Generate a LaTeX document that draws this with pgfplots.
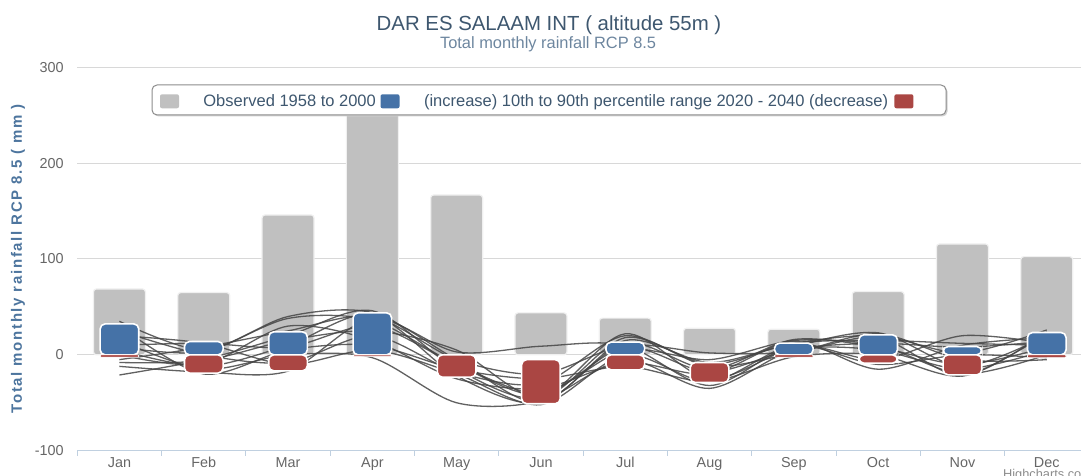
\documentclass[border=0pt]{standalone}
\usepackage{pgfplots}
\pgfplotsset{compat=1.18}
\usepackage{fontspec}
\setmainfont{Liberation Sans}
\newfontfamily\ylabfont[LetterSpace=11]{Liberation Sans}

\definecolor{obsgray}{HTML}{C0C0C0}
\definecolor{incblue}{HTML}{4572A7}
\definecolor{decred}{HTML}{AA4643}
\definecolor{gridgray}{HTML}{D8D8D8}
\definecolor{axisblue}{HTML}{C0D0E0}
\definecolor{ticktext}{HTML}{666666}
\definecolor{titlecol}{HTML}{3E576F}
\definecolor{subcol}{HTML}{6D869F}
\definecolor{ylabcol}{HTML}{4D759E}
\definecolor{modelline}{HTML}{454545}

\pgfplotsset{
  common/.style={width=505.8pt, height=191.7pt, scale only axis,
    xmin=-0.5, xmax=11.5, ymin=-100, ymax=300,
    at={(0,0)}, anchor=south west},
  model/.style={modelline, smooth, line width=0.65pt, opacity=0.85, mark=none},
}

\begin{document}
\begin{tikzpicture}
\begin{axis}[common,
    axis x line*=bottom, axis y line*=left,
    x axis line style={draw=axisblue, line width=0.5pt, -},
    y axis line style={draw=none},
    xtick={0,...,11},
    xticklabels={Jan,Feb,Mar,Apr,May,Jun,Jul,Aug,Sep,Oct,Nov,Dec},
    minor xtick={-0.5,0.5,...,11.5},
    ytick={-100,0,100,200,300},
    ymajorgrids, grid style={draw=gridgray, line width=0.5pt},
    xtick style={draw=none}, ytick style={draw=none},
    minor x tick style={draw=axisblue, line width=0.5pt},
    major tick length=0pt, minor tick length=2.5pt, tick align=outside,
    tick label style={font=\fontsize{7.2}{8}\selectfont, text=ticktext},
    /pgf/number format/assume math mode=true,
    yticklabel style={xshift=-3.3pt},
    xticklabel style={yshift=0.3pt},
    ylabel={\ylabfont\bfseries Total monthly rainfall RCP 8.5 ( mm )},
    every axis y label/.style={at={(rel axis cs:0,0.5)}, xshift=-29.6pt,
      rotate=90, anchor=center, text=ylabcol,
      font=\fontsize{7.5}{9}\selectfont},
]
% observed 1958-2000
\addplot[ybar, bar width=26pt, bar shift=0pt, fill=obsgray, draw=black!6,
  line width=0.6pt, rounded corners=1.5pt] coordinates {
  (0,68.8) (1,65) (2,146) (3,270) (4,166.8) (5,43.8)
  (6,38.3) (7,27.8) (8,26.8) (9,66) (10,115.7) (11,102.5)};
% individual model changes
\addplot[model] coordinates {(0,35) (1,5) (2,40) (3,44) (4,-5) (5,-50) (6,15) (7,-8) (8,12) (9,20) (10,2) (11,26)};
\addplot[model] coordinates {(0,-21) (1,-5) (2,20) (3,46) (4,-15) (5,-45) (6,22) (7,-25) (8,8) (9,23) (10,-12) (11,20)};
\addplot[model] coordinates {(0,-12) (1,-18) (2,-17) (3,38) (4,3) (5,9) (6,10) (7,-32) (8,10) (9,-5) (10,20) (11,12)};
\addplot[model] coordinates {(0,10) (1,12) (2,8) (3,30) (4,-10) (5,-40) (6,5) (7,-5) (8,15) (9,10) (10,-20) (11,0)};
\addplot[model] coordinates {(0,25) (1,0) (2,-8) (3,20) (4,-18) (5,-30) (6,20) (7,-12) (8,2) (9,22) (10,-5) (11,-5)};
\addplot[model] coordinates {(0,0) (1,-10) (2,30) (3,15) (4,-25) (5,-35) (6,-8) (7,-20) (8,14) (9,-15) (10,10) (11,18)};
\addplot[model] coordinates {(0,15) (1,-15) (2,0) (3,-3) (4,-50) (5,-48) (6,-5) (7,-35) (8,5) (9,5) (10,-15) (11,5)};
\addplot[model] coordinates {(0,-5) (1,8) (2,25) (3,40) (4,-5) (5,-20) (6,10) (7,2) (8,3) (9,18) (10,-22) (11,24)};
\addplot[model] coordinates {(0,20) (1,12) (2,-10) (3,5) (4,-20) (5,-52) (6,0) (7,-28) (8,10) (9,-10) (10,0) (11,-3)};
\addplot[model] coordinates {(0,-8) (1,-6) (2,15) (3,25) (4,5) (5,-45) (6,18) (7,-10) (8,12) (9,15) (10,12) (11,10)};
\addplot[model] coordinates {(0,30) (1,-20) (2,5) (3,10) (4,-15) (5,-25) (6,-12) (7,-28) (8,-2) (9,0) (10,-22) (11,22)};
\addplot[model] coordinates {(0,8) (1,3) (2,38) (3,36) (4,-10) (5,-42) (6,8) (7,-18) (8,6) (9,12) (10,8) (11,14)};
\addplot[model] coordinates {(0,5) (1,-12) (2,10) (3,42) (4,-22) (5,-50) (6,12) (7,-15) (8,16) (9,8) (10,-10) (11,8)};
% 90th percentile (increase)
\addplot[ybar, bar width=19.3pt, bar shift=0pt, fill=incblue, draw=white,
  line width=0.8pt, rounded corners=2.5pt] coordinates {
  (0,32.3) (1,13.9) (2,24) (3,43.8) (6,13.2) (8,12.2) (9,20.9) (10,8.7) (11,23.3)};
% 10th percentile (decrease)
\addplot[ybar, bar width=19.3pt, bar shift=0pt, fill=decred, draw=white,
  line width=0.8pt, rounded corners=2.5pt] coordinates {
  (1,-19) (2,-16.7) (4,-23.3) (6,-15.6) (9,-8.7) (10,-20.9)};
\addplot[ybar, bar width=19.3pt, bar shift=0pt, fill=decred, draw=white,
  line width=0.4pt, rounded corners=0.4pt] coordinates {
  (0,-2.5) (3,-1.5) (8,-2.5) (11,-3)};
\end{axis}

% ranges that lie wholly below zero
\begin{axis}[common, hide axis, ybar stacked, bar width=19.3pt]
\addplot[draw=none, fill=none] coordinates {(5,-5) (7,-8)};
\addplot[fill=decred, draw=white, line width=0.8pt, rounded corners=2.5pt]
  coordinates {(5,-46) (7,-20.9)};
\end{axis}

% titles
\node[anchor=base, inner sep=0pt, font=\fontsize{10.2}{12}\selectfont, text=titlecol]
  at (235.85pt,210.2pt) {DAR ES SALAAM INT ( altitude 55m )};
\node[anchor=base, inner sep=0pt, font=\fontsize{8.2}{10}\selectfont, text=subcol]
  at (235.4pt,200.9pt) {Total monthly rainfall RCP 8.5};

% legend
\fill[black!18, rounded corners=2.5pt] (38.1pt,167.1pt) rectangle (435.1pt,182.1pt);
\draw[draw=black!45, fill=white, line width=0.5pt, rounded corners=2.5pt]
  (37.35pt,167.85pt) rectangle (434.35pt,182.85pt);
\fill[obsgray, rounded corners=1pt] (41.35pt,171.2pt) rectangle (50.85pt,178.2pt);
\fill[incblue, rounded corners=1pt] (151.6pt,171.2pt) rectangle (161.1pt,178.2pt);
\fill[decred, rounded corners=1pt] (408.55pt,171.2pt) rectangle (418.05pt,178.2pt);
\node[anchor=base west, inner sep=0pt, font=\fontsize{8.25}{10}\selectfont, text=titlecol]
  at (62.85pt,172pt) {Observed 1958 to 2000};
\node[anchor=base west, inner sep=0pt, font=\fontsize{8.25}{10}\selectfont, text=titlecol]
  at (173.15pt,172pt) {(increase) 10th to 90th percentile range 2020 - 2040 (decrease)};

% credit
\node[anchor=base west, inner sep=0pt, font=\fontsize{6.4}{7}\selectfont, text=black!45]
  at (462.7pt,-13.9pt) {Highcharts.com};

\pgfresetboundingbox
\path[use as bounding box] (-38.65pt,-12.65pt) rectangle (501.85pt,225.35pt);
\end{tikzpicture}
\end{document}
